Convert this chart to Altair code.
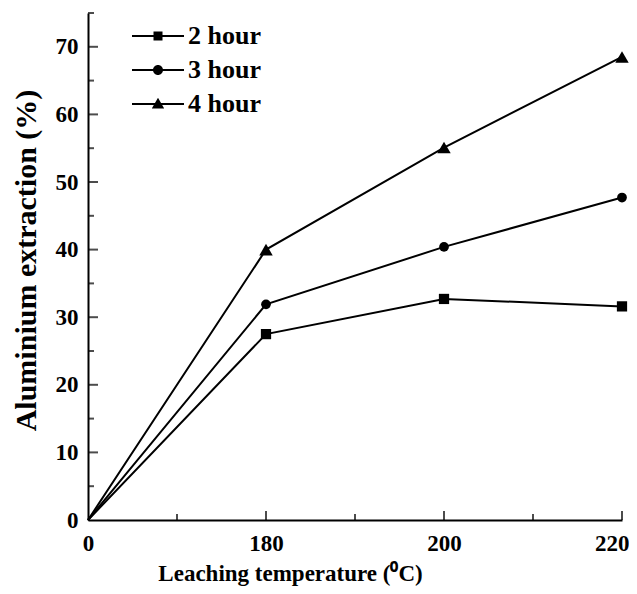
import altair as alt
import pandas as pd

temps = ["0", "180", "200", "220"]
series = ["2 hour", "3 hour", "4 hour"]
hour2 = [0, 27.5, 32.7, 31.6]
hour3 = [0, 31.9, 40.4, 47.7]
hour4 = [0, 40.0, 55.1, 68.5]
y_labels = [0, 10, 20, 30, 40, 50, 60, 70]
y_major = [10, 20, 30, 40, 50, 60, 70]
y_minor = [5, 15, 25, 35, 45, 55, 65, 75]
x_major = [1, 2, 3]
x_minor = [0.5, 1.5, 2.5]
marker_shapes = ["square", "circle", "triangle-up"]
marker_sizes = [105, 95, 180]

rows = []
for name, vals in zip(series, [hour2, hour3, hour4]):
    for i, (t, v) in enumerate(zip(temps, vals)):
        rows.append({"pos": i, "temp": t, "series": name, "value": v})
df = pd.DataFrame(rows)

W, H = 534, 507
FONT = "Liberation Serif"
LAST = len(temps) - 1

xscale = alt.Scale(domain=[0, LAST], nice=False, zero=False)
yscale = alt.Scale(domain=[0, 75], nice=False)
label_expr = "[" + ",".join(f"'{t}'" for t in temps) + "][datum.value]"

x_axis = alt.Axis(
    values=list(range(len(temps))), labelExpr=label_expr, ticks=False, tickSize=0,
    grid=False, domainColor="black", domainWidth=2, labelFont=FONT,
    labelFontWeight="bold", labelFontSize=23, labelColor="black", labelPadding=12,
    labelFlush=False,
    labelAlign={"condition": {"test": f"datum.value == {LAST}", "value": "right"}, "value": "center"},
    labelOffset={"condition": {"test": f"datum.value == {LAST}", "value": 7}, "value": 0},
    title="Leaching temperature (⁰C)", titleFont=FONT,
    titleFontWeight="bold", titleFontSize=23, titleColor="black",
    titleBaseline="alphabetic", titleX=202, titleY=60,
)
y_axis = alt.Axis(
    values=y_labels, ticks=False, tickSize=0, grid=False, domainColor="black",
    domainWidth=2, labelFont=FONT, labelFontWeight="bold", labelFontSize=23,
    labelColor="black", labelPadding=10, labelFlush=False,
    title="Aluminium extraction (%)", titleFont=FONT, titleFontWeight="bold",
    titleFontSize=30, titleColor="black", titleX=-47, titleY=247,
)

X = alt.X("pos:Q", scale=xscale, axis=x_axis)
Y = alt.Y("value:Q", scale=yscale, axis=y_axis)

lines = alt.Chart(df).mark_line(color="black", strokeWidth=2).encode(
    x=X, y=Y, detail="series:N",
)

point_layers = []
for name, shp, sz in zip(series, marker_shapes, marker_sizes):
    point_layers.append(
        alt.Chart(df).transform_filter(
            (alt.datum.series == name) & (alt.datum.pos > 0)
        ).mark_point(filled=True, color="black", opacity=1, shape=shp, size=sz).encode(x=X, y=Y)
    )

BAR = "M-2.6,-0.1H2.6V0.1H-2.6Z"
legend_paths = [
    BAR + "M-0.45,-0.45H0.45V0.45H-0.45Z",
    BAR + "M-0.5,0A0.5,0.5 0 1,1 0.5,0A0.5,0.5 0 1,1 -0.5,0Z",
    BAR + "M0,-0.62L0.62,0.45L-0.62,0.45Z",
]
legend_layer = alt.Chart(df).transform_filter("false").mark_point(
    filled=True, color="black", size=400, opacity=1
).encode(
    x=X, y=Y,
    shape=alt.Shape(
        "series:N", scale=alt.Scale(domain=series, range=legend_paths),
        legend=alt.Legend(
            title=None, orient="none", legendX=57, legendY=10, padding=0,
            symbolSize=400, symbolFillColor="black", symbolOpacity=1,
            labelFont=FONT, labelFontWeight="bold", labelFontSize=26,
            labelColor="black", labelOffset=17, rowPadding=8,
        ),
    ),
)

def ticks(values, orient, length, offset):
    d = pd.DataFrame({"value": values, "pos": values})
    m = alt.Chart(d).mark_tick(orient=orient, color="black", thickness=2, size=length)
    if orient == "horizontal":
        return m.encode(y=Y, x=alt.value(offset))
    return m.encode(x=X, y=alt.value(offset))

layers = [lines] + point_layers + [
    legend_layer,
    ticks(y_major, "horizontal", 10, 5),
    ticks(y_minor, "horizontal", 6, 3),
    ticks(x_major, "vertical", 9, H - 4.5),
    ticks(x_minor, "vertical", 6, H - 3),
]

chart = alt.layer(*layers).properties(
    width=W, height=H,
    padding={"left": 80, "top": 5, "right": 7, "bottom": 66},
    autosize=alt.AutoSizeParams(type="none"),
    background="white",
).configure_view(strokeWidth=0)

chart.save("out.html", embed_options={"renderer": "svg", "actions": False})
